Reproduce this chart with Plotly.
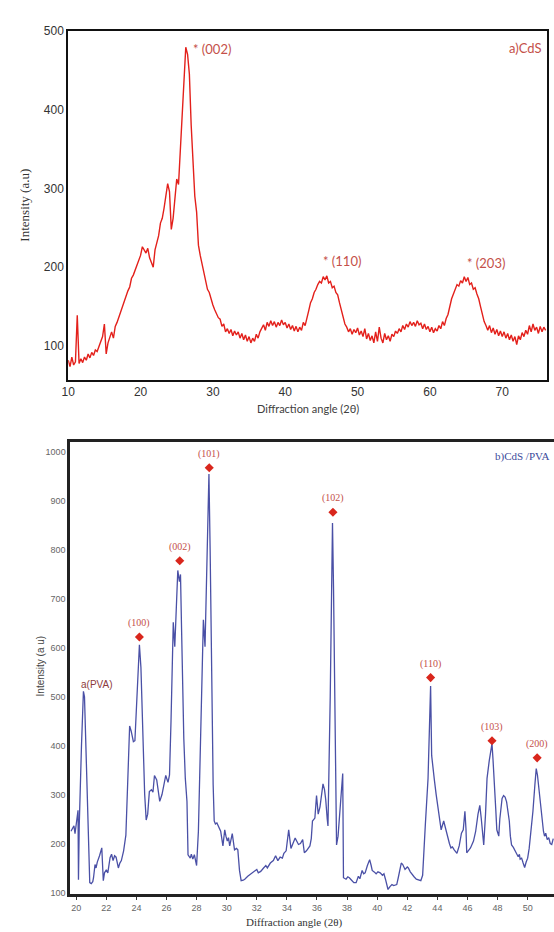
import plotly.graph_objects as go

# ---------------- Panel a) CdS ----------------
a_start = 10.0
a_step = 0.25
a_intensity = [
    82, 74, 86, 76,
    80, 139, 78, 84,
    79, 86, 82, 90,
    85, 92, 88, 95,
    93, 100, 105, 112,
    128, 90, 104, 112,
    118, 110, 125, 130,
    137, 142, 150, 157,
    163, 170, 175, 186,
    190, 196, 204, 210,
    215, 226, 222, 218,
    224, 212, 206, 200,
    222, 232, 240, 256,
    262, 275, 292, 306,
    296, 248, 262, 290,
    312, 305, 350, 395,
    425, 479, 470, 445,
    380, 325, 290, 270,
    228, 215, 205, 192,
    185, 172, 168, 158,
    152, 146, 140, 136,
    134, 125, 128, 118,
    122, 116, 121, 113,
    119, 114, 118, 110,
    116, 108, 114, 106,
    112, 104, 110, 106,
    115, 110, 118, 122,
    127, 120, 130, 125,
    132, 126, 131, 124,
    130, 126, 133, 127,
    130, 123, 128, 121,
    126, 119, 125, 118,
    124, 120, 130, 126,
    138, 145, 155, 160,
    168, 172, 178, 182,
    180, 188, 184, 189,
    180, 182, 174, 176,
    168, 165, 155, 145,
    136, 128, 124, 118,
    122, 115, 121, 117,
    123, 114, 119, 112,
    122, 109, 116, 107,
    113, 104, 118, 106,
    124, 110, 104, 116,
    108, 113, 106, 115,
    112, 119, 116, 122,
    118, 126, 121, 128,
    124, 131, 126, 130,
    125, 132, 127, 129,
    122, 128, 121, 125,
    118, 124, 117, 122,
    119, 126, 122, 131,
    126, 135, 140, 152,
    160, 166, 172, 178,
    176, 183, 180, 188,
    182, 187, 178, 180,
    172, 174, 166, 160,
    150, 140, 131, 126,
    120, 126, 117, 123,
    115, 121, 113, 119,
    112, 118, 110, 116,
    108, 114, 106, 112,
    102, 113, 108, 117,
    112, 120, 115, 126,
    118, 128, 120, 124,
    116, 125, 118, 124,
    120,
]
a_two_theta = [a_start + a_step * i for i in range(len(a_intensity))]

a_peak_labels = ["* (002)", "* (110)", "* (203)"]
a_peak_x = [27.0, 45.0, 64.9]
a_peak_y = [477, 208, 206]

# ---------------- Panel b) CdS/PVA ----------------
b_two_theta = [
    19.65, 19.75, 19.85, 19.92, 20.0, 20.08, 20.12, 20.15, 20.2, 20.35,
    20.48, 20.55, 20.7, 20.78, 20.9, 21.0, 21.1, 21.15, 21.25, 21.32,
    21.4, 21.55, 21.7, 21.8, 21.88, 22.0, 22.1, 22.25, 22.35, 22.45,
    22.55, 22.65, 22.8, 22.9, 23.0, 23.15, 23.3, 23.45, 23.55, 23.65,
    23.8, 23.9, 24.03, 24.2, 24.3, 24.42, 24.55, 24.65, 24.75, 24.86,
    25.0, 25.1, 25.2, 25.35, 25.55, 25.7, 25.84, 25.95, 26.1, 26.2,
    26.3, 26.45, 26.55, 26.65, 26.75, 26.86, 26.93, 27.0, 27.05, 27.15,
    27.25, 27.36, 27.43, 27.5, 27.58, 27.65, 27.75, 27.85, 28.0, 28.12,
    28.24, 28.35, 28.45, 28.56, 28.67, 28.82, 28.9, 29.0, 29.1, 29.17,
    29.25, 29.35, 29.43, 29.55, 29.6, 29.75, 29.87, 29.95, 30.04, 30.12,
    30.2, 30.37, 30.45, 30.52, 30.65, 30.74, 30.85, 30.96, 31.1, 31.2,
    31.4, 31.6, 31.8, 32.0, 32.1, 32.26, 32.45, 32.6, 32.7, 32.9,
    33.1, 33.25, 33.4, 33.55, 33.7, 33.8, 33.95, 34.12, 34.27, 34.4,
    34.55, 34.65, 34.77, 34.9, 35.05, 35.16, 35.3, 35.53, 35.62, 35.7,
    35.78, 35.86, 35.97, 36.08, 36.2, 36.4, 36.5, 36.58, 36.68, 36.73,
    36.88, 37.03, 37.1, 37.2, 37.3, 37.4, 37.45, 37.6, 37.71, 37.76,
    37.93, 38.05, 38.15, 38.3, 38.45, 38.6, 38.75, 38.85, 39.0, 39.1,
    39.2, 39.35, 39.5, 39.6, 39.67, 39.8, 39.93, 40.05, 40.2, 40.35,
    40.45, 40.55, 40.65, 40.72, 40.85, 40.98, 41.1, 41.3, 41.4, 41.52,
    41.6, 41.7, 41.8, 41.85, 42.0, 42.07, 42.2, 42.29, 42.45, 42.6,
    42.75, 42.9, 43.02, 43.1, 43.2, 43.38, 43.48, 43.55, 43.62, 43.7,
    43.8, 43.92, 44.03, 44.15, 44.25, 44.42, 44.55, 44.64, 44.8, 44.9,
    45.0, 45.12, 45.3, 45.45, 45.6, 45.72, 45.83, 45.9, 45.95, 46.05,
    46.2, 46.4, 46.54, 46.7, 46.82, 46.92, 47.0, 47.08, 47.2, 47.3,
    47.45, 47.55, 47.63, 47.7, 47.78, 47.88, 47.95, 48.08, 48.15, 48.2,
    48.3, 48.4, 48.5, 48.6, 48.7, 48.78, 48.85, 48.93, 49.05, 49.15,
    49.25, 49.37, 49.45, 49.5, 49.6, 49.7, 49.8, 49.9, 50.0, 50.1,
    50.2, 50.35, 50.48, 50.57, 50.65, 50.74, 50.85, 50.96, 51.05, 51.12,
    51.2, 51.3, 51.4, 51.5, 51.6, 51.7,
]
b_intensity = [
    225, 232, 236, 220, 238, 262, 268, 126, 235, 400,
    511, 500, 330, 286, 120, 118, 122, 130, 157, 150,
    162, 175, 191, 124, 140, 146, 140, 171, 178, 165,
    175, 172, 150, 160, 165, 185, 217, 350, 440, 430,
    408, 410, 495, 606, 560, 414, 300, 248, 260, 306,
    310, 305, 339, 330, 286, 300, 327, 339, 325, 340,
    450, 652, 602, 690, 758, 735, 750, 640, 535, 414,
    333, 286, 177, 172, 170, 178, 168, 177, 155, 225,
    367, 540, 657, 602, 784, 955, 800, 535, 320, 246,
    240, 242, 236, 228, 225, 195, 228, 215, 205, 212,
    195, 220, 200, 187, 190, 187, 145, 124, 125, 127,
    133, 138, 143, 147, 140, 143, 150, 155, 150, 160,
    165, 175, 165, 172, 170, 180, 185, 228, 190, 200,
    211, 205, 198, 200, 208, 181, 185, 195, 210, 246,
    250, 252, 298, 260, 275, 322, 310, 290, 250, 236,
    500, 855, 720, 450, 197, 215, 238, 300, 343, 130,
    127, 132, 130, 125, 120, 120, 133, 128, 145, 138,
    140, 155, 167, 155, 145, 142, 138, 142, 140, 135,
    138, 127, 115, 106, 112, 116, 114, 116, 130, 145,
    160, 157, 150, 147, 152, 150, 142, 138, 132, 127,
    125, 124, 135, 190, 238, 333, 420, 522, 380, 350,
    330, 300, 278, 250, 228, 246, 230, 215, 200, 191,
    193, 187, 180, 195, 221, 228, 266, 230, 181, 185,
    191, 205, 224, 260, 278, 250, 215, 197, 260, 333,
    370, 385, 404, 370, 333, 270, 228, 215, 250, 271,
    292, 298, 295, 285, 265, 246, 215, 197, 192, 187,
    180, 173, 178, 168, 170, 160, 151, 162, 170, 190,
    220, 266, 320, 353, 340, 313, 280, 246, 225, 215,
    221, 208, 212, 200, 198, 210,
]

b_peak_labels = ["(100)", "(002)", "(101)", "(102)", "(110)", "(103)", "(200)"]
b_peak_x = [24.2, 26.88, 28.84, 37.06, 43.55, 47.63, 50.63]
b_peak_y = [622, 778, 968, 877, 539, 410, 375]

RED = "#e3201b"
LABEL_RED = "#c4504a"
BLUE = "#4a50a6"

fig = go.Figure()

fig.add_trace(go.Scatter(
    x=a_two_theta, y=a_intensity, mode="lines",
    line=dict(color=RED, width=1.4), xaxis="x", yaxis="y",
    showlegend=False, hoverinfo="skip"))

fig.add_trace(go.Scatter(
    x=b_two_theta, y=b_intensity, mode="lines",
    line=dict(color=BLUE, width=1.3), xaxis="x2", yaxis="y2",
    showlegend=False, hoverinfo="skip"))

fig.add_trace(go.Scatter(
    x=b_peak_x, y=b_peak_y, mode="markers",
    marker=dict(symbol="diamond", color="#d9261c", size=7),
    xaxis="x2", yaxis="y2", showlegend=False, hoverinfo="skip"))

W, H = 554, 932
annotations = []

for lab, x, y in zip(a_peak_labels, a_peak_x, a_peak_y):
    annotations.append(dict(
        x=x, y=y, xref="x", yref="y", text=lab, showarrow=False,
        xanchor="left", yanchor="middle",
        font=dict(family="Lato, Open Sans, sans-serif", size=13, color=LABEL_RED)))

annotations.append(dict(
    x=75.8, y=478, xref="x", yref="y", text="a)CdS", showarrow=False,
    xanchor="right", yanchor="middle",
    font=dict(family="Lato, Open Sans, sans-serif", size=13, color=LABEL_RED)))

for lab, x, y in zip(b_peak_labels, b_peak_x, b_peak_y):
    annotations.append(dict(
        x=x, y=y, xref="x2", yref="y2", text=lab, showarrow=False,
        xanchor="center", yanchor="bottom", yshift=6,
        font=dict(family="Liberation Serif, serif", size=10, color=LABEL_RED)))

annotations.append(dict(
    x=21.4, y=525, xref="x2", yref="y2", text="a(PVA)", showarrow=False,
    xanchor="center", yanchor="middle",
    font=dict(family="Liberation Sans, sans-serif", size=10, color="#8e3b3b")))

annotations.append(dict(
    x=51.6, y=990, xref="x2", yref="y2", text="b)CdS /PVA", showarrow=False,
    xanchor="right", yanchor="middle",
    font=dict(family="Liberation Serif, serif", size=11, color="#3b4a9b")))

# axis titles
annotations.append(dict(
    x=305 / W, y=1 - 406 / H, xref="paper", yref="paper",
    text="Diffraction angle (2θ)", showarrow=False,
    xanchor="center", yanchor="middle",
    font=dict(family="Lato, Open Sans, sans-serif", size=11, color="#404040")))
annotations.append(dict(
    x=18 / W, y=1 - 200 / H, xref="paper", yref="paper",
    text="Intensity (a.u)", showarrow=False, textangle=-90,
    xanchor="center", yanchor="middle",
    font=dict(family="Liberation Serif, serif", size=13, color="#333333")))
annotations.append(dict(
    x=291 / W, y=1 - 925 / H, xref="paper", yref="paper",
    text="Diffraction angle (2θ)", showarrow=False,
    xanchor="center", yanchor="middle",
    font=dict(family="Liberation Serif, serif", size=11, color="#333333")))
annotations.append(dict(
    x=34 / W, y=1 - 666 / H, xref="paper", yref="paper",
    text="Intensity (a u)", showarrow=False, textangle=-90,
    xanchor="center", yanchor="middle",
    font=dict(family="Liberation Sans Narrow, Liberation Sans, sans-serif",
              size=10, color="#444444")))

fig.update_layout(
    width=W, height=H,
    margin=dict(l=0, r=0, t=0, b=0),
    paper_bgcolor="white", plot_bgcolor="white",
    showlegend=False,
    annotations=annotations,
    xaxis=dict(
        domain=[62 / W, 547 / W], anchor="y",
        range=[10, 76.2], tickmode="linear", tick0=10, dtick=10,
        showgrid=False, zeroline=False,
        showline=True, linecolor="#111111", linewidth=2, mirror=True,
        ticks="", ticklen=0, ticklabelstandoff=0,
        tickfont=dict(family="Liberation Sans, Arial", size=12, color="#333333"),
    ),
    yaxis=dict(
        domain=[1 - 377 / H, 1 - 24 / H], anchor="x",
        range=[57, 500], tickmode="linear", tick0=100, dtick=100,
        showgrid=False, zeroline=False,
        showline=True, linecolor="#111111", linewidth=2, mirror=True,
        ticks="", ticklen=0, ticklabelstandoff=0,
        tickfont=dict(family="Liberation Sans, Arial", size=12, color="#333333"),
    ),
    xaxis2=dict(
        domain=[64 / W, 1.0], anchor="y2",
        range=[19.6, 51.75], tickmode="linear", tick0=20, dtick=2,
        showgrid=False, zeroline=False,
        showline=True, linecolor="#222222", linewidth=2.5, mirror=True,
        ticks="outside", ticklen=3, tickcolor="#333333",
        tickfont=dict(family="Liberation Sans Narrow, Liberation Sans, Arial",
                      size=9, color="#666666"),
    ),
    yaxis2=dict(
        domain=[1 - 897 / H, 1 - 440 / H], anchor="x2",
        range=[96, 1020], tickmode="linear", tick0=100, dtick=100,
        showgrid=False, zeroline=False,
        showline=True, linecolor="#222222", linewidth=2.5, mirror=False,
        ticks="", ticklen=0, ticklabelstandoff=0,
        tickfont=dict(family="Liberation Sans Narrow, Liberation Sans, Arial",
                      size=9, color="#666666"),
    ),
)

fig.write_html("out.html")
